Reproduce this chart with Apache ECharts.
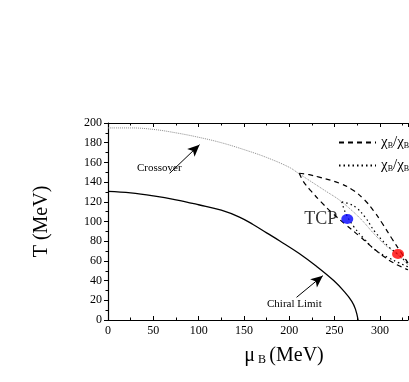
<!DOCTYPE html>
<html>
<head>
<meta charset="utf-8">
<script src="https://cdn.jsdelivr.net/npm/echarts@6/dist/echarts.min.js"></script>
<style>
html,body{margin:0;padding:0;background:#fff;}
#chart{width:409px;height:382px;}
</style>
</head>
<body>
<div id="chart"></div>
<script>
// mu_B (MeV), T (MeV)
const crossover = [[0,195],[25,195],[50,193.5],[75,190],[100,185.5],[125,180],[150,173],[175,165],[200,155],[210,149],[225,140],[240,131],[255,122],[268,112],[280,101.5],[293,88],[306,76],[320,66],[331,56]];
const chiral = [[0,130.5],[25,129],[50,126],[75,122],[100,117],[125,111.5],[145,104.5],[160,97],[175,88.5],[190,80],[211,67.5],[230,54.5],[249,40],[260,29.5],[269,19],[273,11],[276,0]];
// band edges, both starting at the tip
const dashUpper = [[211,149],[222,147.5],[233,145],[255,139],[270,132],[283,122],[293,111],[302,99],[313,83],[323,69],[331,58]];
const dashLower = [[211,149],[216,140],[224,131],[235,120],[247,109],[262,97],[277,85.5],[290,75],[302,66],[315,58],[331,51]];
const dotUpper = [[258,120],[266,118],[274,114],[284,104],[295,89],[310,74],[321,66],[331,57]];
const dotLower = [[258,120],[262,109],[271,95],[282,83],[295,71],[310,63],[321,58],[331,54]];
const tcp = [[264,102.5]];
const cep = [[320,67]];

const serif = 'Liberation Serif';

function band(name, data, dash){
    return {
        name:name,
        type:'line',
        data:data,
        symbol:'none',
        smooth:0.4,
        lineStyle:{color:'#000',width:1.2,type:dash}
    };
}

let chart = echarts.init(document.getElementById('chart'));
let option = {
    backgroundColor:'#fff',
    animation:false,
    grid:{left:108,right:1,top:123,bottom:62},
    legend:{
        left:333,
        top:130,
        orient:'vertical',
        itemWidth:37,
        itemHeight:8,
        itemGap:8,
        itemStyle:{opacity:0},
        data:['dash','dot'],
        formatter:function(){
            return '{a|χ}{s|B}{a|/χ}{s|B}';
        },
        textStyle:{
            rich:{
                a:{fontFamily:serif,fontSize:15,color:'#000'},
                s:{fontFamily:serif,fontSize:8,color:'#000',verticalAlign:'bottom',padding:[6,0,0,0]}
            }
        }
    },
    xAxis:[{
        type:'value',
        min:0,
        max:331,
        interval:50,
        position:'bottom',
        name:'{m|μ}{b| B} {m|(MeV)}',
        nameLocation:'middle',
        nameGap:26,
        nameTextStyle:{
            padding:[0,0,0,52],
            rich:{
                m:{fontFamily:serif,fontSize:20,color:'#000'},
                b:{fontFamily:serif,fontSize:12,color:'#000',padding:[8,0,0,0]}
            }
        },
        axisLine:{lineStyle:{color:'#000',width:1.2}},
        axisTick:{inside:true,length:4,lineStyle:{color:'#000'}},
        minorTick:{show:true,splitNumber:2,length:2.5,lineStyle:{color:'#000'}},
        axisLabel:{fontFamily:serif,fontSize:12,color:'#000',margin:5,showMaxLabel:false},
        splitLine:{show:false}
    },{
        type:'value',
        min:0,
        max:331,
        interval:50,
        position:'top',
        axisLine:{lineStyle:{color:'#000',width:1.2}},
        axisTick:{inside:true,length:4,lineStyle:{color:'#000'}},
        minorTick:{show:true,splitNumber:2,length:2.5,lineStyle:{color:'#000'}},
        axisLabel:{show:false},
        splitLine:{show:false}
    }],
    yAxis:{
        type:'value',
        min:0,
        max:200,
        interval:20,
        name:'T (MeV)',
        nameLocation:'middle',
        nameGap:56,
        nameTextStyle:{fontFamily:serif,fontSize:20,color:'#000'},
        axisLine:{show:true,lineStyle:{color:'#000',width:1.2}},
        axisTick:{show:true,length:4,lineStyle:{color:'#000'}},
        minorTick:{show:true,splitNumber:2,length:2.5,lineStyle:{color:'#000'}},
        axisLabel:{fontFamily:serif,fontSize:12,color:'#000',margin:6},
        splitLine:{show:false}
    },
    series:[{
        name:'crossover',
        type:'line',
        data:crossover,
        symbol:'none',
        smooth:0.4,
        lineStyle:{color:'#8c8c8c',width:1,type:'dotted'},
        markLine:{
            silent:true,
            symbol:['none','arrow'],
            symbolSize:[8,12],
            label:{show:false},
            lineStyle:{color:'#000',width:1,type:'solid'},
            data:[
                [{coord:[68,149]},{coord:[101,178]}],
                [{coord:[208,23]},{coord:[237,45]}]
            ]
        }
    },{
        name:'chiral',
        type:'line',
        data:chiral,
        symbol:'none',
        smooth:0.4,
        lineStyle:{color:'#000',width:1.3}
    },
    band('dash', dashUpper, [5,4]),
    band('dash', dashLower, [5,4]),
    band('dot', dotUpper, [1.5,3]),
    band('dot', dotLower, [1.5,3]),
    {
        name:'TCP',
        type:'scatter',
        z:5,
        data:tcp,
        symbol:'circle',
        symbolSize:[12,10],
        itemStyle:{color:'#0000ff'},
        label:{show:true,position:'left',distance:4,formatter:'TCP',fontFamily:serif,fontSize:18,color:'#000'}
    },{
        name:'CEP',
        type:'scatter',
        z:5,
        data:cep,
        symbol:'circle',
        symbolSize:[12,10],
        itemStyle:{color:'#ff0000'}
    }],
    graphic:[
        {type:'text',left:137,top:163,style:{text:'Crossover',font:'11px "Liberation Serif"',fill:'#000'}},
        {type:'text',left:267,top:299,style:{text:'Chiral Limit',font:'11px "Liberation Serif"',fill:'#000'}}
    ]
};
chart.setOption(option);
</script>
</body>
</html>
